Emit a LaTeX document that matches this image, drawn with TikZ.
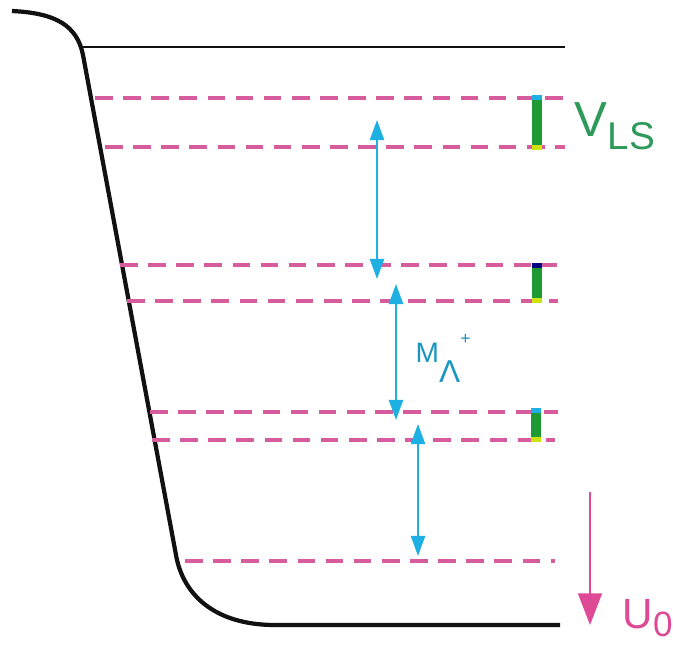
\documentclass[tikz,border=0pt]{standalone}
\usepackage{fontspec}
\setmainfont{Liberation Sans}
\usetikzlibrary{arrows.meta}
\definecolor{wellink}{HTML}{111111}
\definecolor{levelpink}{HTML}{D65C9E}
\definecolor{gapcyan}{HTML}{1FB0E3}
\definecolor{lsgreen}{HTML}{1E9A34}
\definecolor{lstext}{HTML}{2E9A5A}
\definecolor{depthpink}{HTML}{DE4A96}
\begin{document}
\begin{tikzpicture}[x=0.01cm,y=-0.01cm,
  level/.style={levelpink,line width=0.9pt,dash pattern=on 5pt off 3pt},
  gap/.style={gapcyan,line width=0.6pt,
    {Triangle[width=4pt,length=5.7pt]}-{Triangle[width=4pt,length=5.7pt]}},
  label/.style={inner sep=0pt,anchor=base west}]
\path[use as bounding box] (0,0) rectangle (673,648);
\fill[white] (0,0) rectangle (673,648);
% Potentialtopf
\draw[wellink,line width=1.2pt,line join=round]
  (12,11) .. controls (55,13) and (77,25) .. (83,55) -- (176,555)
  .. controls (183,595) and (215,625) .. (275,625) -- (560,625);
\draw[wellink,line width=0.6pt] (81,47) -- (565,47);
% Niveaus
\draw[level] (95,98) -- (565,98);
\draw[level] (105,147) -- (565,147);
\draw[level] (120,265) -- (557,265);
\draw[level] (127,301) -- (558,301);
\draw[level] (150,412) -- (558,412);
\draw[level] (152,440) -- (555,440);
\draw[level] (185,561) -- (555,561);
% Spin-Bahn-Aufspaltung
\fill[lsgreen] (532,97) rectangle (542,148);
\fill[gapcyan] (532,95) rectangle (542,100);
\fill[yellow!80!green] (532,145) rectangle (542,150);
\fill[lsgreen] (532,263) rectangle (542,303);
\fill[blue!50!black] (532,263) rectangle (542,268);
\fill[yellow!80!green] (532,298) rectangle (542,303);
\fill[lsgreen] (531,408) rectangle (541,442);
\fill[gapcyan] (531,408) rectangle (541,413);
\fill[yellow!80!green] (531,437) rectangle (541,442);
% Abstaende
\coordinate (s1) at (377,120);
\coordinate (p1) at (377,279);
\coordinate (s2) at (396,284);
\coordinate (p2) at (396,420);
\coordinate (s3) at (418,424);
\coordinate (p3) at (418,556);
\draw[gap] (s1) -- (p1);
\draw[gap] (s2) -- (p2);
\draw[gap] (s3) -- (p3);
\node[label,text=gapcyan!85!black,font=\fontsize{8}{8}\selectfont] (mlam) at (415,362)
  {M\raisebox{-5.7pt}{\fontsize{9}{9}\selectfont Λ}\raisebox{5pt}{\fontsize{5}{5}\selectfont +}};
% Tiefe
\coordinate (utop) at (590,492);
\coordinate (ubot) at (590,625);
\draw[depthpink,line width=0.5pt,-{Triangle[width=6.8pt,length=9pt]}] (utop) -- (ubot);
\node[label,text=depthpink,font=\fontsize{12}{12}\selectfont] (uo) at (622,628)
  {U\raisebox{-2.5pt}{\fontsize{10}{10}\selectfont 0}};
\node[label,text=lstext,font=\fontsize{14}{14}\selectfont] (vls) at (574,136)
  {V\raisebox{-3.7pt}{\fontsize{11}{11}\selectfont LS}};
\end{tikzpicture}
\end{document}
